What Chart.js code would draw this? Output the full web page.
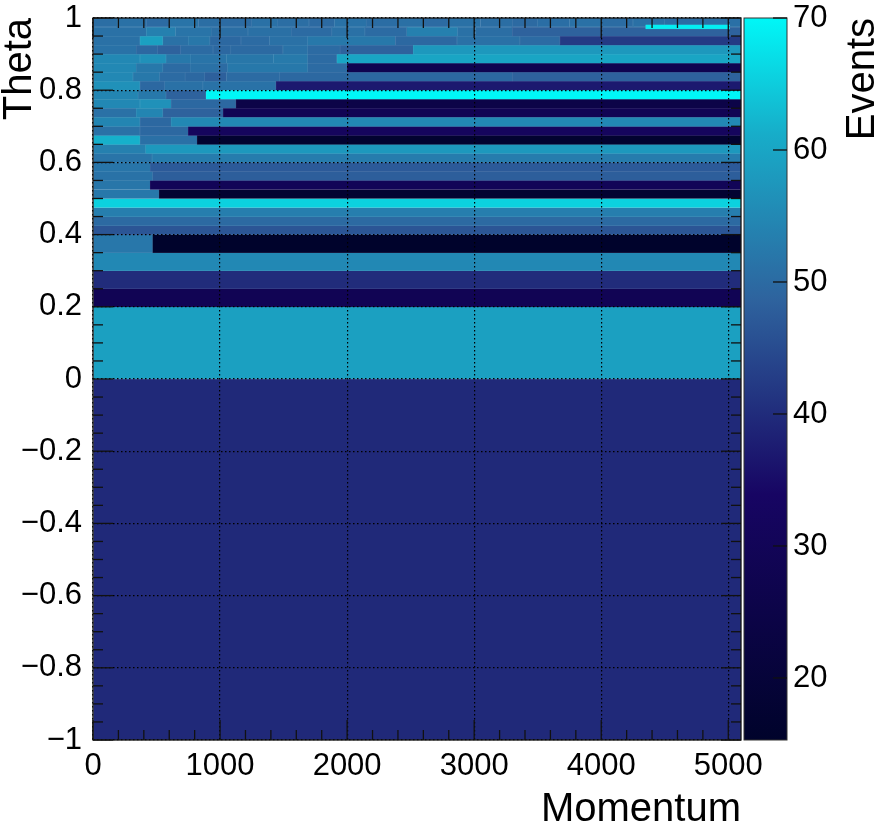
<!DOCTYPE html>
<html>
<head>
<meta charset="utf-8">
<title>Theta vs Momentum</title>
<script src="https://cdn.jsdelivr.net/npm/chart.js@4.4.1/dist/chart.umd.min.js"></script>
<style>
  html, body { margin: 0; padding: 0; background: #ffffff; }
  canvas { display: block; }
</style>
</head>
<body>
<canvas id="chart" width="890" height="831"></canvas>
<script>
// Theta bin edges of each row of the histogram (low / high).
const thetaLow  = [0.9695, 0.975, 0.95, 0.925, 0.9, 0.875, 0.85, 0.825, 0.8, 0.775, 0.75, 0.725, 0.7, 0.675,
                   0.65, 0.625, 0.6, 0.575, 0.55, 0.525, 0.5, 0.475, 0.45, 0.425, 0.4, 0.35, 0.3, 0.25, 0.2, 0, -1];
const thetaHigh = [0.981, 1.0, 0.975, 0.95, 0.925, 0.9, 0.875, 0.85, 0.825, 0.8, 0.775, 0.75, 0.725, 0.7,
                   0.675, 0.65, 0.625, 0.6, 0.575, 0.55, 0.525, 0.5, 0.475, 0.45, 0.425, 0.4, 0.35, 0.3, 0.25, 0.2, 0];

// Momentum bin edges inside each theta row.
const momentumEdges = [
  [4350, 5010],
  [0, 190, 420, 600, 830, 1000, 1250, 1450, 1700, 1900, 2150, 2400, 2600, 2800, 3050, 3300, 3500, 3750, 4000, 4250, 4500, 4800, 5100],
  [0, 420, 650, 930, 1220, 1560, 1880, 2140, 2470, 2870, 3010, 3300, 5100],
  [0, 370, 550, 750, 920, 1165, 1390, 1690, 2380, 2865, 3360, 3675, 5100],
  [0, 340, 510, 690, 945, 1085, 1495, 1690, 1945, 2520, 5100],
  [0, 370, 575, 770, 1050, 1420, 1690, 1920, 5100],
  [0, 340, 550, 765, 985, 1060, 1690, 2000, 5100],
  [0, 315, 525, 725, 880, 1050, 1470, 3300, 5100],
  [0, 370, 565, 865, 1440, 5100],
  [0, 355, 575, 890, 5100],
  [0, 370, 615, 1125, 5100],
  [0, 340, 550, 1025, 5100],
  [0, 370, 615, 5100],
  [0, 370, 750, 5100],
  [0, 370, 820, 5100],
  [0, 415, 5100],
  [0, 465, 5100],
  [0, 450, 5100],
  [0, 470, 5100],
  [0, 450, 5100],
  [0, 520, 5100],
  [0, 5100],
  [0, 5100],
  [0, 5100],
  [0, 5100],
  [0, 470, 5100],
  [0, 5100],
  [0, 5100],
  [0, 5100],
  [0, 5100],
  [0, 5100]
];

// Events in each bin (same order as the edges above).
const eventCounts = [
  [69],
  [50.5, 51, 50, 51.5, 50.5, 50, 51, 50.5, 49.8, 51.2, 50.3, 50.8, 50, 51, 50.5, 49.8, 50.6, 51, 50.2, 50.8, 50.4, 50.9],
  [51, 53.6, 51.5, 50.5, 50.8, 50, 51, 50, 53.6, 51, 50.5, 48.5],
  [51, 59, 51, 52, 49.5, 50, 51, 52.3, 49.5, 51, 50, 42.2],
  [51.3, 49.5, 48.5, 50, 49.5, 49.9, 51.3, 50, 48.5, 57.7],
  [55, 56.5, 52.3, 51.5, 52, 52.5, 50, 59.9],
  [55, 52.3, 50, 51, 50, 52.3, 50, 27.6],
  [55, 52.3, 50, 49.5, 48.2, 50, 49.5, 48.5],
  [56.5, 49.5, 51, 51.3, 37],
  [54.5, 52.3, 48.5, 70],
  [55, 56.5, 49.5, 25],
  [51, 54.5, 48.5, 29],
  [54.5, 49.5, 55],
  [51, 49.5, 32],
  [61.6, 50.9, 17],
  [53.6, 57.7],
  [51.5, 53],
  [51.8, 47.3],
  [51.3, 47.9],
  [51.9, 30],
  [52.3, 17.5],
  [65.5],
  [53.3],
  [49.9],
  [46.5],
  [52.1, 15.5],
  [55],
  [40],
  [29],
  [59],
  [39.5]
];

// Axis ranges and tick values.
const momentumRange = [0, 5100];
const thetaRange = [-1, 1];
const eventRange = [15.3, 70];
const momentumTicks = [0, 1000, 2000, 3000, 4000, 5000];
const thetaTicks = [-1, -0.8, -0.6, -0.4, -0.2, 0, 0.2, 0.4, 0.6, 0.8, 1];
const eventTicks = [20, 30, 40, 50, 60, 70];

// "Deep sea" colour palette (position in range -> RGB).
const paletteStops = [0, 0.34, 0.61, 0.84, 1];
const paletteRGB = [[0, 3, 43], [23, 5, 99], [46, 99, 158], [23, 173, 201], [0, 247, 247]];

function paletteAt(f) {
  f = Math.max(0, Math.min(1, f));
  for (let i = 1; i < paletteStops.length; i++) {
    if (f <= paletteStops[i]) {
      const t = (f - paletteStops[i - 1]) / (paletteStops[i] - paletteStops[i - 1]);
      const a = paletteRGB[i - 1], b = paletteRGB[i];
      return [0, 1, 2].map(k => a[k] + (b[k] - a[k]) * t);
    }
  }
  return paletteRGB[paletteRGB.length - 1];
}
function colourFor(v) {
  return paletteAt((v - eventRange[0]) / (eventRange[1] - eventRange[0]));
}
function css(rgb) {
  return 'rgb(' + rgb.map(c => Math.round(c)).join(',') + ')';
}
function lighten(rgb, k) {
  return rgb.map(c => c + (255 - c) * k);
}

const FONT = '"Liberation Sans", Arial, Helvetica, sans-serif';

// One floating-bar dataset per theta row; each bar spans one momentum bin.
const datasets = thetaLow.map((lo, r) => {
  const hi = thetaHigh[r];
  const edges = momentumEdges[r];
  const counts = eventCounts[r];
  return {
    label: 'theta ' + lo + '-' + hi,
    data: counts.map((v, i) => ({ x: [edges[i], edges[i + 1]], y: (lo + hi) / 2 })),
    backgroundColor: counts.map(v => css(colourFor(v))),
    borderColor: counts.map(v => css(lighten(colourFor(v), 0.15))),
    borderWidth: 0.5,
    borderSkipped: false,
    grouped: false,
    barThickness: (ctx) => {
      const ys = ctx.chart.scales.y;
      return Math.abs(ys.getPixelForValue(lo) - ys.getPixelForValue(hi));
    }
  };
});

function tickLine(ctx, x1, y1, x2, y2) {
  ctx.beginPath();
  ctx.moveTo(x1, y1);
  ctx.lineTo(x2, y2);
  ctx.stroke();
}

// Fixed axis box sizes; label overhang must not push the plot area in.
function fixBox(size, vertical) {
  return s => {
    if (vertical) s.width = size; else s.height = size;
    s.paddingTop = 0; s.paddingBottom = 0; s.paddingLeft = 0; s.paddingRight = 0;
  };
}

// Frame with inward major/minor ticks on all four sides, colour scale and titles.
const decorations = {
  id: 'decorations',
  afterDraw(chart) {
    const { ctx, chartArea: a, scales } = chart;
    const xs = scales.x, ys = scales.y, zs = scales.z;
    ctx.save();

    // frame
    ctx.strokeStyle = '#111';
    ctx.lineWidth = 1.3;
    ctx.strokeRect(a.left, a.top, a.right - a.left, a.bottom - a.top);

    // momentum ticks (5 subdivisions per major step)
    const xStep = momentumTicks[1] - momentumTicks[0];
    for (let v = xs.min; v <= xs.max + 1e-6; v += xStep / 5) {
      const major = Math.abs(v / xStep - Math.round(v / xStep)) < 1e-6;
      const len = major ? 20 : 10;
      const px = xs.getPixelForValue(v);
      tickLine(ctx, px, a.bottom, px, a.bottom - len);
      tickLine(ctx, px, a.top, px, a.top + len);
    }
    // theta ticks (4 subdivisions per major step)
    const yStep = thetaTicks[1] - thetaTicks[0];
    for (let k = 0; ; k++) {
      const v = ys.min + k * yStep / 4;
      if (v > ys.max + 1e-6) break;
      const major = k % 4 === 0;
      const len = major ? 20 : 10;
      const py = ys.getPixelForValue(v);
      tickLine(ctx, a.left, py, a.left + len, py);
      tickLine(ctx, a.right, py, a.right - len, py);
    }

    // colour scale
    const barLeft = a.right + 3, barRight = a.right + 46;
    const top = zs.getPixelForValue(zs.max), bottom = zs.getPixelForValue(zs.min);
    const grad = ctx.createLinearGradient(0, bottom, 0, top);
    paletteStops.forEach((s, i) => grad.addColorStop(s, css(paletteRGB[i])));
    ctx.fillStyle = grad;
    ctx.fillRect(barLeft, top, barRight - barLeft, bottom - top);
    ctx.strokeStyle = '#333';
    ctx.lineWidth = 1;
    ctx.strokeRect(barLeft, top, barRight - barLeft, bottom - top);
    ctx.strokeStyle = '#111';
    ctx.lineWidth = 1.3;
    zs.ticks.forEach(t => {
      const py = zs.getPixelForValue(t.value);
      tickLine(ctx, barRight, py, barRight - 14, py);
    });

    // titles
    ctx.fillStyle = '#000';
    ctx.font = '40px ' + FONT;
    ctx.textBaseline = 'alphabetic';
    ctx.textAlign = 'right';
    ctx.fillText('Momentum', a.right, 821);

    ctx.save();
    ctx.translate(31, a.top);
    ctx.rotate(-Math.PI / 2);
    ctx.textAlign = 'right';
    ctx.fillText('Theta', 0, 0);
    ctx.restore();

    ctx.save();
    ctx.translate(874, a.top);
    ctx.rotate(-Math.PI / 2);
    ctx.textAlign = 'right';
    ctx.fillText('Events', 0, 0);
    ctx.restore();

    ctx.restore();
  }
};

const tickFont = { family: FONT, size: 31, lineHeight: 1 };

function thetaLabel(v) {
  const r = Math.round(v * 10) / 10;
  if (r === 0) return '0';
  return r < 0 ? '\u2212' + String(Math.abs(r)) : String(r);
}

new Chart(document.getElementById('chart'), {
  type: 'bar',
  data: { datasets },
  options: {
    indexAxis: 'y',
    responsive: false,
    animation: false,
    events: [],
    layout: { padding: { top: 18, left: 0, right: 0, bottom: 0 } },
    plugins: { legend: { display: false }, tooltip: { enabled: false } },
    scales: {
      x: {
        type: 'linear',
        position: 'bottom',
        min: momentumRange[0],
        max: momentumRange[1],
        stacked: false,
        offset: false,
        afterBuildTicks: s => { s.ticks = momentumTicks.map(v => ({ value: v })); },
        afterFit: fixBox(91, false),
        grid: { color: '#000', lineWidth: 1.2, drawTicks: false, offset: false, z: 1 },
        border: { display: false, dash: [1.5, 2.5] },
        ticks: { padding: 11, color: '#000', font: tickFont, maxRotation: 0, autoSkip: false,
                 callback: v => String(v) }
      },
      y: {
        type: 'linear',
        position: 'left',
        min: thetaRange[0],
        max: thetaRange[1],
        offset: false,
        afterBuildTicks: s => { s.ticks = thetaTicks.map(v => ({ value: v })); },
        afterFit: fixBox(93, true),
        grid: { color: '#000', lineWidth: 1.2, drawTicks: false, offset: false, z: 1 },
        border: { display: false, dash: [1.5, 2.5] },
        ticks: { padding: 11, color: '#000', font: tickFont, autoSkip: false,
                 callback: v => thetaLabel(v) }
      },
      z: {
        type: 'linear',
        axis: 'y',
        position: 'right',
        min: eventRange[0],
        max: eventRange[1],
        offset: false,
        afterBuildTicks: s => { s.ticks = eventTicks.map(v => ({ value: v })); },
        afterFit: fixBox(149, true),
        grid: { display: false, drawTicks: false },
        border: { display: false },
        ticks: { padding: 52, color: '#000', font: tickFont, autoSkip: false,
                 callback: v => String(v) }
      }
    }
  },
  plugins: [decorations]
});
</script>
</body>
</html>
